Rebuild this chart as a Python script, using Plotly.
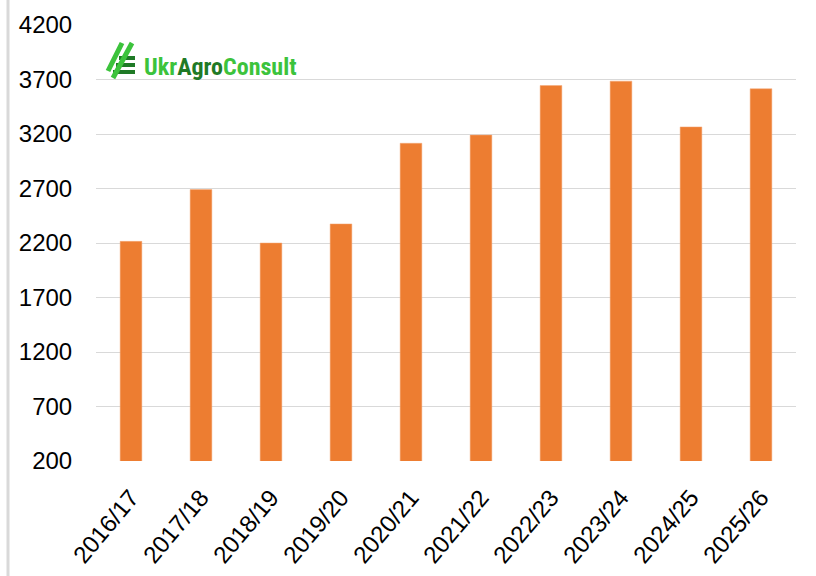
import plotly.graph_objects as go

categories = ["2016/17", "2017/18", "2018/19", "2019/20", "2020/21",
              "2021/22", "2022/23", "2023/24", "2024/25", "2025/26"]
values = [2215, 2690, 2200, 2375, 3115, 3190, 3645, 3685, 3265, 3615]
y_ticks = [200, 700, 1200, 1700, 2200, 2700, 3200, 3700, 4200]

W, H = 816, 576
L, R, T, B = 96, 20, 25, 115
pw, ph = W - L - R, H - T - B

def px(x):
    return (x - L) / pw

def py(y):
    return (H - B - y) / ph

fig = go.Figure(go.Bar(
    x=categories, y=values,
    marker=dict(color="#ED7D31", line=dict(color="#F4A878", width=0.5)),
    width=0.31,
))

shapes = []
# left border line of the picture
shapes.append(dict(type="line", xref="paper", yref="paper",
                   x0=px(8), x1=px(8), y0=py(0), y1=py(576),
                   line=dict(color="#d9d9d9", width=3)))
# logo icon: slashes and E bars
bright = "#3CC33C"
dark = "#1F7A26"
for yy, xs in [(58, 119), (65, 116), (72, 113)]:
    shapes.append(dict(type="line", xref="paper", yref="paper",
                       x0=px(xs), y0=py(yy), x1=px(135), y1=py(yy),
                       line=dict(color=dark, width=4)))
for (x0, y0, x1, y1) in [(108, 71, 122, 43), (113, 78, 132, 43)]:
    shapes.append(dict(type="line", xref="paper", yref="paper",
                       x0=px(x0), y0=py(y0), x1=px(x1), y1=py(y1),
                       line=dict(color=bright, width=5)))

FONT = "Liberation Sans, Arial, sans-serif"

fig.update_layout(
    width=W, height=H,
    margin=dict(l=L, r=R, t=T, b=B, autoexpand=False),
    paper_bgcolor="white", plot_bgcolor="white",
    showlegend=False,
    font=dict(family=FONT, color="#000000"),
    xaxis=dict(
        tickangle=-50, tickfont=dict(size=24, family=FONT, color="#000000"),
        showgrid=False, showline=False, zeroline=False, automargin=False,
        ticks="outside", ticklen=12, tickcolor="rgba(0,0,0,0)",
        range=[-0.5, 9.5],
    ),
    yaxis=dict(
        range=[200, 4200], tickvals=y_ticks, ticktext=[str(v) for v in y_ticks],
        tickfont=dict(size=24, family=FONT, color="#000000"),
        showgrid=True, gridcolor="#d9d9d9", gridwidth=1, automargin=False,
        zeroline=False, showline=False,
        ticks="outside", ticklen=18, tickcolor="rgba(0,0,0,0)",
    ),
    shapes=shapes,
    annotations=[dict(
        xref="paper", yref="paper", x=px(142), y=py(67), xanchor="left", yanchor="middle",
        showarrow=False,
        text=(f"<span style='color:{bright}'>Ukr</span>"
              f"<span style='color:{dark}'>Agro</span>"
              f"<span style='color:{bright}'>Consult</span>"),
        font=dict(size=24, family="Liberation Sans Narrow, Arial Narrow, Roboto Condensed, sans-serif",
                  weight="bold"),
    )],
)

fig.write_html("out.html", config={"displayModeBar": False},
               post_script="document.body.style.margin='0px';")
